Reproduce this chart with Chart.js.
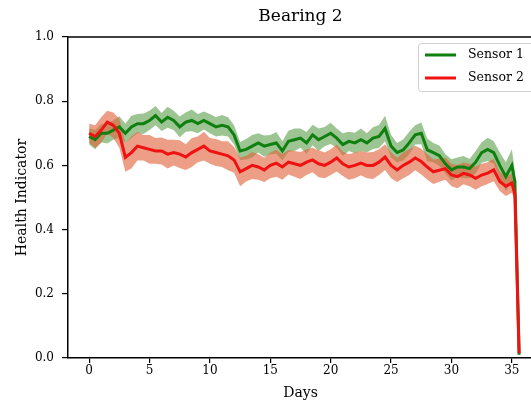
<!DOCTYPE html>
<html>
<head>
<meta charset="utf-8">
<script src="https://cdn.jsdelivr.net/npm/chart.js@4.4.1/dist/chart.umd.min.js"></script>
<style>
  html, body { margin: 0; padding: 0; background: #fff; overflow: hidden; }
  #wrap { position: absolute; left: 0; top: 0; width: 536px; height: 405px; }
</style>
</head>
<body>
<div id="wrap"><canvas id="HealthChart" width="536" height="405"></canvas></div>
<script>
// Days of the run (x values)
const days = [0, 0.5, 1, 1.5, 2, 2.5, 3, 3.5, 4, 4.5,
  5, 5.5, 6, 6.5, 7, 7.5, 8, 8.5, 9, 9.5,
  10, 10.5, 11, 11.5, 12, 12.5, 13, 13.5, 14, 14.5,
  15, 15.5, 16, 16.5, 17, 17.5, 18, 18.5, 19, 19.5,
  20, 20.5, 21, 21.5, 22, 22.5, 23, 23.5, 24, 24.5,
  25, 25.5, 26, 26.5, 27, 27.5, 28, 28.5, 29, 29.5,
  30, 30.5, 31, 31.5, 32, 32.5, 33, 33.5, 34, 34.5,
  35, 35.25, 35.6];

const seriesNames = ['Sensor 1', 'Sensor 2'];

// health indicator, sensor 1
const sensor1 = [0.69, 0.68, 0.70, 0.70, 0.71, 0.72, 0.70, 0.72, 0.73, 0.73,
  0.74, 0.755, 0.735, 0.75, 0.74, 0.72, 0.735, 0.74, 0.73, 0.74,
  0.73, 0.72, 0.725, 0.72, 0.695, 0.645, 0.65, 0.66, 0.67, 0.66,
  0.665, 0.67, 0.645, 0.675, 0.68, 0.685, 0.67, 0.695, 0.68, 0.69,
  0.70, 0.685, 0.665, 0.675, 0.67, 0.68, 0.67, 0.685, 0.69, 0.715,
  0.66, 0.64, 0.648, 0.67, 0.695, 0.70, 0.648, 0.64, 0.63, 0.605,
  0.586, 0.595, 0.595, 0.59, 0.61, 0.64, 0.65, 0.64, 0.60, 0.565,
  0.60, 0.55, 0.01];

// health indicator, sensor 2
const sensor2 = [0.70, 0.69, 0.71, 0.735, 0.725, 0.70, 0.625, 0.64, 0.66, 0.655,
  0.65, 0.645, 0.645, 0.635, 0.64, 0.635, 0.626, 0.64, 0.65, 0.66,
  0.645, 0.64, 0.635, 0.63, 0.617, 0.58, 0.59, 0.60, 0.595, 0.586,
  0.60, 0.607, 0.595, 0.61, 0.605, 0.60, 0.61, 0.617, 0.605, 0.60,
  0.61, 0.623, 0.605, 0.595, 0.60, 0.607, 0.60, 0.60, 0.61, 0.626,
  0.60, 0.586, 0.60, 0.61, 0.623, 0.612, 0.595, 0.58, 0.585, 0.59,
  0.57, 0.565, 0.575, 0.57, 0.56, 0.57, 0.576, 0.586, 0.55, 0.535,
  0.545, 0.51, 0.015];

// half width of the shaded band round each line
const spread1 = [0.025, 0.03, 0.028, 0.032, 0.03, 0.033, 0.03, 0.035, 0.03, 0.032,
  0.03, 0.03, 0.028, 0.033, 0.03, 0.032, 0.03, 0.034, 0.03, 0.028,
  0.03, 0.03, 0.032, 0.03, 0.03, 0.028, 0.032, 0.035, 0.03, 0.033,
  0.03, 0.034, 0.03, 0.033, 0.035, 0.03, 0.034, 0.032, 0.035, 0.03,
  0.033, 0.03, 0.035, 0.03, 0.032, 0.035, 0.03, 0.034, 0.036, 0.04,
  0.035, 0.03, 0.033, 0.035, 0.03, 0.034, 0.035, 0.03, 0.032, 0.03,
  0.033, 0.03, 0.034, 0.03, 0.035, 0.032, 0.036, 0.035, 0.04, 0.045,
  0.05, 0.03, 0.005];

const spread2 = [0.03, 0.035, 0.04, 0.035, 0.04, 0.045, 0.045, 0.05, 0.045, 0.04,
  0.045, 0.04, 0.042, 0.045, 0.04, 0.043, 0.04, 0.045, 0.04, 0.045,
  0.04, 0.042, 0.04, 0.045, 0.04, 0.045, 0.04, 0.042, 0.04, 0.038,
  0.04, 0.042, 0.04, 0.038, 0.04, 0.042, 0.04, 0.038, 0.042, 0.04,
  0.04, 0.042, 0.038, 0.04, 0.04, 0.038, 0.04, 0.042, 0.04, 0.04,
  0.04, 0.038, 0.04, 0.04, 0.038, 0.04, 0.04, 0.038, 0.036, 0.035,
  0.035, 0.036, 0.034, 0.035, 0.036, 0.035, 0.034, 0.035, 0.03, 0.03,
  0.03, 0.02, 0.005];

const xTicks = [0, 5, 10, 15, 20, 25, 30, 35];
const yTicks = [0, 0.2, 0.4, 0.6, 0.8, 1.0];

const serif = 'DejaVu Serif';

function pts(ys, off, sign) {
  return days.map((d, i) => ({ x: d, y: ys[i] + (off ? sign * off[i] : 0) }));
}

// top spine + legend box in the upper right
const framePlugin = {
  id: 'frame',
  afterDraw(chart) {
    const ctx = chart.ctx;
    const a = chart.chartArea;
    ctx.save();
    ctx.strokeStyle = '#000';
    ctx.lineWidth = 1.5;
    ctx.beginPath();
    ctx.moveTo(a.left, a.top);
    ctx.lineTo(a.right, a.top);
    ctx.stroke();

    // legend
    const bx = 418, by = 43, bw = 130, bh = 48;
    ctx.fillStyle = 'rgba(255,255,255,0.85)';
    ctx.strokeStyle = '#d0d0d0';
    ctx.lineWidth = 1;
    ctx.beginPath();
    ctx.roundRect(bx + 0.5, by + 0.5, bw, bh, 3);
    ctx.fill();
    ctx.stroke();
    seriesNames.forEach((name, i) => {
      const ds = chart.data.datasets.find(d => d.label === name);
      const y = by + 12 + i * 23;
      ctx.strokeStyle = ds.borderColor;
      ctx.lineWidth = 3;
      ctx.beginPath();
      ctx.moveTo(425, y);
      ctx.lineTo(456, y);
      ctx.stroke();
      ctx.fillStyle = '#000';
      ctx.font = '12.5px "' + serif + '"';
      ctx.textBaseline = 'middle';
      ctx.fillText(name, 468, y);
    });
    ctx.restore();
  }
};

const ctx = document.getElementById('HealthChart').getContext('2d');
let chart = new Chart(ctx, {
  type: 'line',
  data: {
    datasets: [
      { label: 'Sensor 2', data: pts(sensor2), borderColor: '#f01212', borderWidth: 3, pointRadius: 0, fill: false, order: 0 },
      { label: 'Sensor 1', data: pts(sensor1), borderColor: '#0f800f', borderWidth: 3, pointRadius: 0, fill: false, order: 1 },
      { label: 'band2 low', data: pts(sensor2, spread2, -1), borderWidth: 0, pointRadius: 0, fill: false, order: 2 },
      { label: 'band2 high', data: pts(sensor2, spread2, 1), borderWidth: 0, pointRadius: 0,
        fill: { target: 2 }, backgroundColor: 'rgba(225,100,60,0.62)', order: 2 },
      { label: 'band1 low', data: pts(sensor1, spread1, -1), borderWidth: 0, pointRadius: 0, fill: false, order: 3 },
      { label: 'band1 high', data: pts(sensor1, spread1, 1), borderWidth: 0, pointRadius: 0,
        fill: { target: 4 }, backgroundColor: 'rgba(60,140,40,0.5)', order: 3 }
    ]
  },
  options: {
    responsive: false,
    animation: false,
    devicePixelRatio: 1,
    layout: { padding: { left: 0, right: 3, top: 0, bottom: 0 } },
    plugins: {
      legend: { display: false },
      tooltip: { enabled: false },
      title: {
        display: true, text: 'Bearing 2', fullSize: false, color: '#000',
        font: { family: serif, size: 17, weight: 'normal' },
        padding: { top: 6, bottom: 10.6 }
      }
    },
    scales: {
      x: {
        type: 'linear', min: -1.75, max: 36.75,
        afterBuildTicks: s => { s.ticks = xTicks.map(v => ({ value: v })); },
        afterFit: s => { s.height = 47; },
        ticks: { color: '#000', font: { family: serif, size: 12 }, padding: 1, maxRotation: 0 },
        grid: { drawOnChartArea: false, tickLength: 5, color: '#000', lineWidth: 1.2 },
        border: { color: '#000', width: 1.5 },
        title: { display: true, text: 'Days', color: '#000', font: { family: serif, size: 14 }, padding: { top: 0, bottom: 3.6 } }
      },
      y: {
        min: 0, max: 1,
        afterBuildTicks: s => { s.ticks = yTicks.map(v => ({ value: v })); },
        afterFit: s => { s.width = 68; },
        ticks: { color: '#000', font: { family: serif, size: 12 }, padding: 8, callback: v => Number(v).toFixed(1) },
        grid: { drawOnChartArea: false, tickLength: 6, color: '#000', lineWidth: 1.2 },
        border: { color: '#000', width: 1.5 },
        title: { display: true, text: 'Health Indicator', color: '#000', font: { family: serif, size: 14 }, padding: { top: 13.6, bottom: 0 } }
      }
    }
  },
  plugins: [framePlugin]
});
</script>
</body>
</html>
